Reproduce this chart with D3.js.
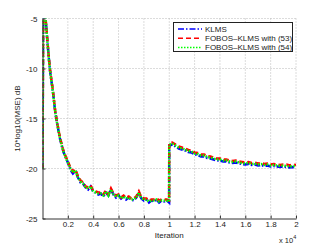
<!DOCTYPE html>
<html lang="en">
<head>
<meta charset="UTF-8">
<title>MSE curves</title>
<script src="https://d3js.org/d3.v7.min.js"></script>
<style>
  body { margin: 0; background: #fff; }
  text { font-family: "Liberation Sans", Arial, sans-serif; fill: #222; }
  .grid line { stroke: #b8b8b8; stroke-dasharray: 1,2; }
</style>
</head>
<body>
<svg id="chart" width="327" height="246"></svg>
<script>
// iterations (shared x grid)
const iters = [0, 60, 120, 200, 300, 400, 500, 600, 700, 800, 900, 1000, 1100, 1200, 1300, 1400, 1500, 1600, 1700, 1800, 1900, 2000,
  2200, 2400, 2600, 2800, 3000, 3200, 3400, 3600, 3800, 4000, 4200, 4400, 4600, 4800, 5000, 5200, 5400, 5600, 5800, 6000,
  6200, 6400, 6600, 6800, 7000, 7200, 7400, 7600, 7800, 8000, 8200, 8400, 8600, 8800, 9000, 9200, 9400, 9600, 9800, 9990,
  10000, 10250, 10500, 10750, 11000, 11250, 11500, 11750, 12000, 12250, 12500, 12750, 13000, 13250, 13500, 13750, 14000,
  14250, 14500, 14750, 15000, 15250, 15500, 15750, 16000, 16250, 16500, 16750, 17000, 17250, 17500, 17750, 18000,
  18250, 18500, 18750, 19000, 19250, 19500, 19750, 20000];

const klms = [-20.0, -3.0, -3.5, -4.5, -5.9, -7.5, -9.0, -10.3, -11.2, -12.1, -13.2, -14.3, -15.1, -15.8, -16.5, -17.15, -17.6, -18.1, -18.5, -18.8, -19.1, -19.4,
  -20.1, -20.5, -20.2, -20.9, -21.4, -21.5, -21.9, -22.1, -21.8, -22.3, -22.4, -22.6, -22.5, -22.8, -22.4, -22.7, -22.1, -22.6, -22.9, -22.7,
  -23.0, -22.8, -23.1, -22.9, -23.1, -23.2, -22.9, -22.4, -23.0, -23.2, -23.1, -23.4, -23.2, -23.3, -23.1, -23.4, -23.2, -23.3, -23.2, -23.4,
  -17.7, -17.6, -17.8, -18.0, -18.1, -18.2, -18.35, -18.4, -18.6, -18.65, -18.8, -18.8, -18.95, -19.0, -19.1, -19.2, -19.2,
  -19.3, -19.3, -19.4, -19.45, -19.4, -19.5, -19.55, -19.6, -19.55, -19.65, -19.6, -19.7, -19.65, -19.75, -19.7, -19.8,
  -19.75, -19.8, -19.85, -19.8, -19.85, -19.9, -19.85, -19.9];

const fobos53 = [-20.0, -3.0, -3.4, -4.4, -5.8, -7.4, -8.9, -10.2, -11.1, -12.0, -13.1, -14.2, -15.0, -15.7, -16.4, -17.0, -17.5, -18.0, -18.4, -18.7, -19.0, -19.3,
  -19.9, -20.3, -20.1, -20.8, -21.2, -21.4, -21.8, -21.9, -21.7, -22.2, -22.3, -22.4, -22.4, -22.6, -22.2, -22.6, -22.0, -22.5, -22.7, -22.6,
  -22.9, -22.7, -22.9, -22.8, -23.0, -23.0, -22.8, -22.3, -22.9, -23.0, -23.0, -23.2, -23.1, -23.1, -23.0, -23.2, -23.1, -23.1, -23.1, -23.2,
  -17.5, -17.4, -17.6, -17.8, -17.9, -18.0, -18.15, -18.2, -18.4, -18.45, -18.6, -18.6, -18.75, -18.8, -18.9, -19.0, -19.0,
  -19.1, -19.1, -19.2, -19.25, -19.2, -19.3, -19.35, -19.4, -19.35, -19.45, -19.4, -19.5, -19.45, -19.55, -19.5, -19.6,
  -19.55, -19.6, -19.65, -19.6, -19.6, -19.7, -19.6, -19.65];

const fobos54 = [-20.0, -3.0, -3.5, -4.5, -5.9, -7.5, -9.0, -10.3, -11.2, -12.1, -13.2, -14.3, -15.1, -15.8, -16.5, -17.1, -17.6, -18.1, -18.5, -18.8, -19.1, -19.4,
  -20.0, -20.4, -20.2, -20.9, -21.3, -21.5, -21.9, -22.0, -21.8, -22.3, -22.4, -22.5, -22.5, -22.7, -22.3, -22.7, -22.1, -22.6, -22.8, -22.7,
  -23.0, -22.8, -23.0, -22.9, -23.1, -23.1, -22.9, -22.4, -23.0, -23.1, -23.1, -23.3, -23.2, -23.2, -23.1, -23.3, -23.2, -23.2, -23.2, -23.3,
  -17.6, -17.5, -17.7, -17.9, -18.0, -18.1, -18.25, -18.3, -18.5, -18.55, -18.7, -18.7, -18.85, -18.9, -19.0, -19.1, -19.1,
  -19.2, -19.2, -19.3, -19.35, -19.3, -19.4, -19.45, -19.5, -19.45, -19.55, -19.5, -19.6, -19.55, -19.65, -19.6, -19.7,
  -19.65, -19.7, -19.75, -19.7, -19.75, -19.8, -19.75, -19.8];

const xTicks = [2000, 4000, 6000, 8000, 10000, 12000, 14000, 16000, 18000, 20000];
const yTicks = [-25, -20, -15, -10, -5];
const seriesNames = ["KLMS", "FOBOS\u2013KLMS with (53)", "FOBOS\u2013KLMS with (54)"];

const svg = d3.select("#chart");
const plotL = 42.5, plotR = 296, plotT = 18.5, plotB = 218.5;

const x = d3.scaleLinear().domain([0, 20000]).range([plotL, plotR]);
const y = d3.scaleLinear().domain([-25, -5]).range([plotB, plotT]);

// grid
const grid = svg.append("g").attr("class", "grid");
grid.selectAll("line.v").data(xTicks).join("line")
    .attr("class", "v")
    .attr("x1", d => x(d)).attr("x2", d => x(d))
    .attr("y1", plotT).attr("y2", plotB);
grid.selectAll("line.h").data(yTicks.slice(1)).join("line")
    .attr("class", "h")
    .attr("x1", plotL).attr("x2", plotR)
    .attr("y1", d => y(d)).attr("y2", d => y(d));

svg.append("clipPath").attr("id", "clip")
   .append("rect").attr("x", plotL).attr("y", plotT)
   .attr("width", plotR - plotL).attr("height", plotB - plotT);

const series = [
  { name: seriesNames[0], vals: klms, color: "#0000ff", dash: "6,2,1.5,2" },
  { name: seriesNames[1], vals: fobos53, color: "#ff0000", dash: "5,3" },
  { name: seriesNames[2], vals: fobos54, color: "#00ff00", dash: "1.5,1.5" }
];

const line = d3.line().x((d, i) => x(iters[i])).y(d => y(d));

svg.append("g").attr("clip-path", "url(#clip)")
   .selectAll("path").data(series).join("path")
   .attr("fill", "none")
   .attr("stroke", d => d.color)
   .attr("stroke-width", 2.5)
   .attr("stroke-dasharray", d => d.dash)
   .attr("d", d => line(d.vals));

// axes
const xAxis = d3.axisBottom(x).tickValues(xTicks).tickSizeInner(-3).tickSizeOuter(0)
    .tickPadding(3).tickFormat(d => d3.format("~g")(d / 10000));
const gx = svg.append("g").attr("transform", `translate(0,${plotB})`).call(xAxis);
const yAxis = d3.axisLeft(y).tickValues(yTicks).tickSizeInner(-3).tickSizeOuter(0)
    .tickPadding(5).tickFormat(d => d3.format("")(d).replace("\u2212", "-"));
const gy = svg.append("g").attr("transform", `translate(${plotL},0)`).call(yAxis);
[gx, gy].forEach(g => {
  g.select(".domain").attr("stroke", "#333");
  g.selectAll(".tick line").attr("stroke", "#333");
  g.selectAll("text").attr("font-size", 8).attr("font-family", "Liberation Sans, Arial, sans-serif").attr("fill", "#222");
});

svg.append("text").attr("x", (plotL + plotR) / 2).attr("y", 237.5)
   .attr("text-anchor", "middle").attr("font-size", 8).text("Iteration");
const exp = svg.append("text").attr("x", 279).attr("y", 242.5).attr("font-size", 7.5);
exp.append("tspan").text("x 10");
exp.append("tspan").attr("dy", -4).attr("font-size", 5.5).text("4");

svg.append("text")
   .attr("transform", `translate(20,${(plotT + plotB) / 2}) rotate(-90)`)
   .attr("text-anchor", "middle").attr("font-size", 8)
   .text("10*log10(MSE) dB");

// legend
const lg = svg.append("g");
lg.append("rect").attr("x", 173.5).attr("y", 22.5).attr("width", 119).attr("height", 29)
  .attr("fill", "#fff").attr("stroke", "#222").attr("stroke-width", 1);
const rows = lg.selectAll("g.row").data(series).join("g")
  .attr("class", "row")
  .attr("transform", (d, i) => `translate(0,${29 + i * 9.2})`);
rows.append("line").attr("x1", 178).attr("x2", 202).attr("y1", 0).attr("y2", 0)
  .attr("stroke", d => d.color).attr("stroke-width", 1.5)
  .attr("stroke-dasharray", d => d.dash);
rows.append("text").attr("x", 205).attr("y", 3).attr("font-size", 8).text(d => d.name);
</script>
</body>
</html>
